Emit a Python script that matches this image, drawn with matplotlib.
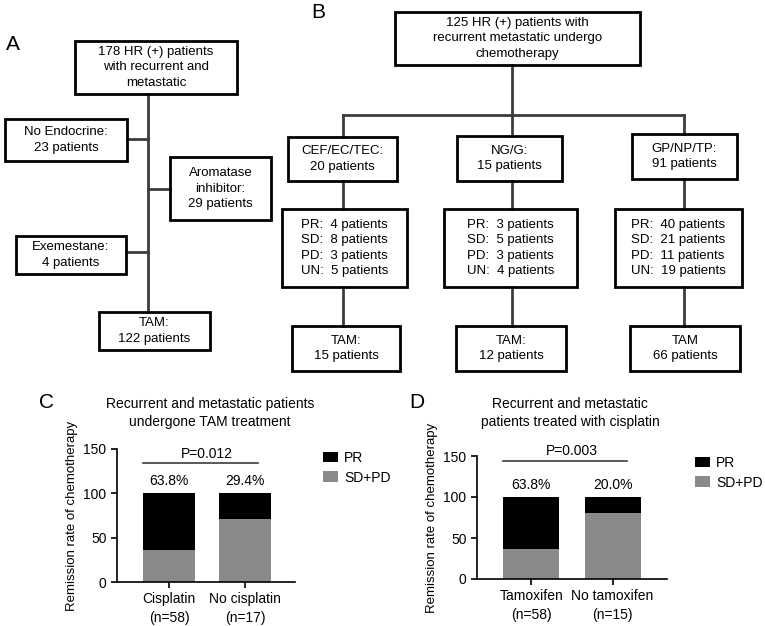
import matplotlib.pyplot as plt
from matplotlib.patches import Rectangle
from matplotlib.lines import Line2D

plt.rcParams['font.family'] = ['Liberation Sans', 'DejaVu Sans']

W, H = 765, 626

# panel C data
c_groups = ["Cisplatin\n(n=58)", "No cisplatin\n(n=17)"]
c_pr = [63.8, 29.4]
c_sdpd = [36.2, 70.6]
c_labels = ["63.8%", "29.4%"]
c_title = "Recurrent and metastatic patients\nundergone TAM treatment"
c_p = "P=0.012"

# panel D data
d_groups = ["Tamoxifen\n(n=58)", "No tamoxifen\n(n=15)"]
d_pr = [63.8, 20.0]
d_sdpd = [36.2, 80.0]
d_labels = ["63.8%", "20.0%"]
d_title = "Recurrent and metastatic\npatients treated with cisplatin"
d_p = "P=0.003"

# flowchart texts
a_texts = ["178 HR (+) patients\nwith recurrent and\nmetastatic",
           "No Endocrine:\n23 patients",
           "Aromatase\ninhibitor:\n29 patients",
           "Exemestane:\n4 patients",
           "TAM:\n122 patients"]
b_top = "125 HR (+) patients with\nrecurrent metastatic undergo\nchemotherapy"
b_regimens = ["CEF/EC/TEC:\n20 patients", "NG/G:\n15 patients", "GP/NP/TP:\n91 patients"]
b_response = ["PR:  4 patients\nSD:  8 patients\nPD:  3 patients\nUN:  5 patients",
              "PR:  3 patients\nSD:  5 patients\nPD:  3 patients\nUN:  4 patients",
              "PR:  40 patients\nSD:  21 patients\nPD:  11 patients\nUN:  19 patients"]
b_tam = ["TAM:\n15 patients", "TAM:\n12 patients", "TAM\n66 patients"]

BLACK = "#000000"
GRAY = "#8a8a8a"
LINE = "#3c3c3c"
FS = 9.5
LS = 1.38

fig = plt.figure(figsize=(W / 100, H / 100), dpi=100)
ov = fig.add_axes([0, 0, 1, 1])
ov.set_xlim(0, W)
ov.set_ylim(H, 0)
ov.axis("off")


def box(x0, y0, x1, y1, text, multi="center"):
    ov.add_patch(Rectangle((x0, y0), x1 - x0, y1 - y0, fill=False,
                           lw=2.0, ec=BLACK, zorder=3))
    ov.text((x0 + x1) / 2, (y0 + y1) / 2, text, ha="center", va="center",
            multialignment=multi, fontsize=FS, linespacing=LS, zorder=4)


def line(xs, ys):
    ov.add_line(Line2D(xs, ys, color=LINE, lw=2.0, zorder=2))


# panel A
ov.text(13, 45, "A", fontsize=15, ha="center", va="center")
box(75, 41, 237, 94, a_texts[0])
line([148, 148], [94, 312])
box(5, 119, 127, 161, a_texts[1])
line([127, 148], [139, 139])
box(170, 157, 271, 220, a_texts[2])
line([148, 170], [189, 189])
box(16, 236, 126, 274, a_texts[3])
line([126, 148], [252, 252])
box(99, 312, 210, 350, a_texts[4])

# panel B
ov.text(318, 13, "B", fontsize=15, ha="center", va="center")
box(395, 12, 640, 65, b_top)
line([512, 512], [65, 115])
line([343, 684], [115, 115])
reg_boxes = [(288, 137, 397, 181), (457, 136, 562, 181), (632, 134, 737, 179)]
resp_boxes = [(282, 209, 407, 287), (444, 209, 577, 287), (615, 209, 742, 287)]
tam_boxes = [(292, 326, 400, 371), (456, 326, 566, 371), (630, 326, 740, 371)]
cols = [343, 512, 684]
for i, cx in enumerate(cols):
    line([cx, cx], [115, reg_boxes[i][1]])
    line([cx, cx], [reg_boxes[i][3], resp_boxes[i][1]])
    line([cx, cx], [resp_boxes[i][3], tam_boxes[i][1]])
    box(*reg_boxes[i], b_regimens[i])
    box(*resp_boxes[i], b_response[i], multi="left")
    box(*tam_boxes[i], b_tam[i])


def px_axes(x0, x1, ytop, ybot):
    return fig.add_axes([x0 / W, 1 - ybot / H, (x1 - x0) / W, (ybot - ytop) / H])


def bar_panel(ax, groups, pr, sdpd, labels, p_text, sig_y, xlim, width):
    x = list(range(len(groups)))
    ax.bar(x, sdpd, width=width, color=GRAY, label="SD+PD")
    ax.bar(x, pr, width=width, bottom=sdpd, color=BLACK, label="PR")
    for xi, lab in zip(x, labels):
        ax.text(xi, 106, lab, ha="center", va="bottom", fontsize=FS + 0.5)
    ax.plot([x[0] - width / 2, x[-1] + width * 0.25], [sig_y, sig_y],
            color=LINE, lw=1.2, clip_on=False)
    ax.text((x[0] + x[-1]) / 2, sig_y + 3, p_text, ha="center", va="bottom",
            fontsize=FS + 0.5, clip_on=False)
    ax.set_xlim(*xlim)
    ax.set_ylim(0, 150)
    ax.set_yticks([0, 50, 100, 150])
    ax.set_xticks(x)
    ax.set_xticklabels(groups, fontsize=FS + 0.5, linespacing=1.4)
    ax.tick_params(axis="y", labelsize=FS + 0.5, length=4, width=1.2)
    ax.tick_params(axis="x", length=4, width=1.2)
    for s in ["top", "right"]:
        ax.spines[s].set_visible(False)
    for s in ["left", "bottom"]:
        ax.spines[s].set_linewidth(1.2)
    ax.set_ylabel("Remission rate of chemotherapy", fontsize=FS, labelpad=4)
    h, l = ax.get_legend_handles_labels()
    return [h[1], h[0]], [l[1], l[0]]


def legend_at(handles, labels, x, y):
    fig.legend(handles, labels, loc="upper left",
               bbox_to_anchor=(x / W, 1 - y / H), frameon=False, fontsize=10,
               handlelength=1.1, handleheight=0.8, handletextpad=0.4,
               labelspacing=0.4, borderpad=0, borderaxespad=0)


# panel C
axc = px_axes(117, 295, 449, 582)
hc, lc = bar_panel(axc, c_groups, c_pr, c_sdpd, c_labels, c_p, 134,
                   (-0.68, 1.65), 0.68)
fig.text(47 / W, 1 - 403 / H, "C", fontsize=15, ha="center", va="center")
fig.text(210 / W, 1 - 413 / H, c_title, fontsize=FS + 0.5, ha="center",
         va="center", linespacing=1.3)
legend_at(hc, lc, 323, 451)

# panel D
axd = px_axes(477, 667, 456, 579)
hd, ld = bar_panel(axd, d_groups, d_pr, d_sdpd, d_labels, d_p, 144,
                   (-0.67, 1.67), 0.69)
fig.text(417 / W, 1 - 403 / H, "D", fontsize=15, ha="center", va="center")
fig.text(570 / W, 1 - 413 / H, d_title, fontsize=FS + 0.5, ha="center",
         va="center", linespacing=1.3)
legend_at(hd, ld, 695, 456)

fig.savefig("out.png", dpi=100)
